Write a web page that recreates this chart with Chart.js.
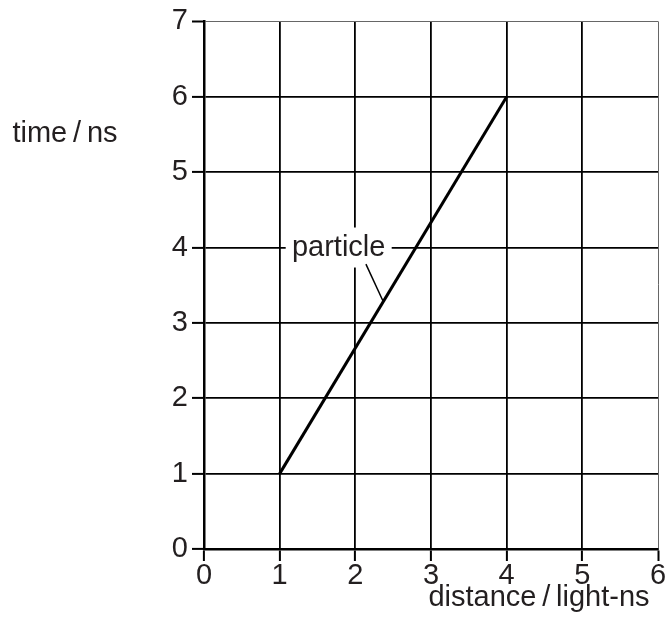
<!DOCTYPE html>
<html lang="en">
<head>
  <meta charset="UTF-8">
  <title>Particle worldline</title>
  <style>
    body {
      margin: 0;
      padding: 0;
      background: #fff;
    }
    .chart-container {
      width: 668px;
      height: 639px;
    }
  </style>
</head>
<body>
  <div class="chart-container">
    <canvas id="worldline" width="668" height="639"></canvas>
  </div>

  <script src="https://cdn.jsdelivr.net/npm/chart.js"></script>
  <script>
    // Data
    const distance = [1, 4];   // light-ns
    const time = [1, 6];       // ns
    const xTicks = [0, 1, 2, 3, 4, 5, 6];
    const yTicks = [0, 1, 2, 3, 4, 5, 6, 7];
    const seriesName = 'particle';

    const textColor = '#231f20';
    const font = { family: "'Liberation Sans', Arial, sans-serif", size: 29 };

    // Axis titles and the "particle" tag with its leader line
    const labels = {
      id: 'labels',
      afterDatasetsDraw(chart) {
        const { ctx, scales: { x, y } } = chart;
        ctx.save();
        ctx.font = `${font.size}px ${font.family}`;
        ctx.fillStyle = textColor;
        ctx.textBaseline = 'middle';
        ctx.textAlign = 'center';
        ctx.fillText('time\u2009/\u2009ns', 65, y.getPixelForValue(5.5));
        ctx.fillText('distance\u2009/\u2009light-ns', 539, 598);

        // tag box
        const cx = x.getPixelForValue(1.78);
        const cy = y.getPixelForValue(4);
        ctx.fillStyle = '#fff';
        ctx.fillRect(cx - 53, cy - 20, 106, 40);
        ctx.fillStyle = textColor;
        ctx.fillText(seriesName, cx, cy);

        // leader
        ctx.strokeStyle = '#000';
        ctx.lineWidth = 1.5;
        ctx.beginPath();
        ctx.moveTo(x.getPixelForValue(2.14), y.getPixelForValue(3.78));
        ctx.lineTo(x.getPixelForValue(2.37), y.getPixelForValue(3.28));
        ctx.stroke();
        ctx.restore();
      }
    };

    const gridWidth = (max) => (c) => (c.tick && c.tick.value === max ? 1 : 1.8);
    const gridColor = (max) => (c) => (c.tick && c.tick.value === max ? '#666' : '#000');

    new Chart(document.getElementById('worldline'), {
      type: 'scatter',
      data: {
        datasets: [{
          label: seriesName,
          data: distance.map((d, i) => ({ x: d, y: time[i] })),
          showLine: true,
          borderColor: '#000',
          borderWidth: 3,
          pointRadius: 0,
        }]
      },
      options: {
        responsive: false,
        animation: false,
        layout: { padding: { top: 20, right: 10, left: 0, bottom: 0 } },
        plugins: {
          legend: { display: false },
          tooltip: { enabled: false },
        },
        scales: {
          x: {
            type: 'linear',
            min: xTicks[0],
            max: xTicks[xTicks.length - 1],
            afterBuildTicks: (s) => { s.ticks = xTicks.map(v => ({ value: v })); },
            afterFit: (s) => { s.height = 90; },
            grid: {
              color: gridColor(6),
              lineWidth: gridWidth(6),
              tickColor: '#000',
              tickLength: 12,
              tickWidth: 2,
            },
            border: { color: '#000', width: 2.5 },
            ticks: { color: textColor, font, padding: -2, maxRotation: 0 },
          },
          y: {
            type: 'linear',
            min: yTicks[0],
            max: yTicks[yTicks.length - 1],
            afterBuildTicks: (s) => { s.ticks = yTicks.map(v => ({ value: v })); },
            afterFit: (s) => { s.width = 204; },
            grid: {
              color: gridColor(7),
              lineWidth: gridWidth(7),
              tickColor: '#000',
              tickLength: 12,
              tickWidth: 2,
            },
            border: { color: '#000', width: 2.5 },
            ticks: { color: textColor, font, padding: 4 },
          },
        },
      },
      plugins: [labels],
    });
  </script>
</body>
</html>
